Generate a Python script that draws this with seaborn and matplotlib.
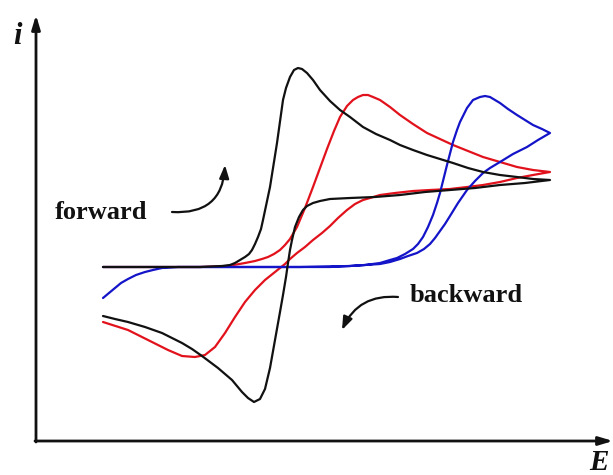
import matplotlib
matplotlib.use("Agg")
import matplotlib.pyplot as plt
import pandas as pd
import seaborn as sns

# Schematic cyclic voltammograms (arbitrary units): potential E, current i.
# Each scan runs forward to the switching potential and then back.
black_E = [66, 113, 163, 185, 193, 198, 203, 208, 212, 215, 218, 221, 224, 226, 233, 240,
           246, 249, 253, 257, 261, 265, 270, 276, 283, 293, 303, 313, 326, 339, 353, 363,
           376, 390, 403, 416, 431, 446, 463, 480, 496, 513,
           488, 463, 438, 413, 388, 363, 338, 313, 293, 283, 276, 270, 266, 262, 258, 255,
           253, 251, 249, 246, 243, 238, 233, 228, 223, 217, 211, 205, 200, 195, 188, 181,
           173, 165, 155, 145, 135, 125, 108, 91, 78, 66]
black_i = [173, 173, 173, 174, 175, 177, 180, 183, 186, 190, 196, 203, 211, 220, 253, 297,
           340, 352, 363, 370, 372, 371, 367, 360, 350, 339, 330, 323, 313, 306, 300, 295,
           290, 285, 281, 277, 272, 268, 265, 263, 261, 260,
           257, 255, 252, 250, 248, 245, 243, 242, 241, 239, 237, 234, 230, 223, 213, 200,
           190, 177, 163, 145, 128, 100, 72, 51, 41, 38, 42, 48, 54, 60, 66, 72,
           78, 84, 91, 97, 102, 107, 113, 118, 121, 124]

red_E = [66, 163, 191, 208, 218, 225, 231, 237, 243, 248, 253, 260, 268, 276, 283, 290,
         297, 303, 310, 316, 321, 326, 331, 336, 343, 353, 363, 376, 390, 403, 416, 431,
         446, 463, 480, 496, 513,
         496, 480, 463, 446, 430, 413, 393, 376, 358, 343, 333, 326, 318, 310, 301, 293,
         285, 276, 268, 260, 253, 248, 238, 228, 218, 208, 198, 188, 178, 168, 158, 145,
         131, 111, 91, 66]
red_i = [173, 173, 174, 177, 179, 181, 183, 186, 190, 195, 201, 213, 232, 253, 272, 291,
         309, 323, 334, 340, 343, 345, 345, 343, 340, 333, 325, 316, 307, 301, 295, 289,
         283, 278, 273, 270, 268,
         265, 262, 258, 255, 253, 251, 250, 249, 247, 245, 242, 240, 236, 230, 222, 214,
         207, 200, 193, 187, 181, 176, 168, 160, 150, 138, 123, 107, 93, 85, 83, 84,
         90, 100, 110, 118]

blue_E = [66, 263, 293, 313, 328, 343, 353, 360, 368, 376, 381, 386, 391, 396, 400, 403,
          410, 416, 420, 423, 427, 430, 436, 443, 448, 453, 458, 463, 471, 480, 488, 496,
          505, 513,
          501, 490, 476, 463, 453, 446, 438, 430, 421, 413, 408, 403, 398, 393, 387, 380,
          371, 363, 353, 343, 328, 313, 263, 163, 141, 125, 116, 108, 99, 91, 84, 78,
          72, 66]
blue_i = [173, 173, 173, 174, 175, 177, 180, 182, 186, 191, 196, 203, 213, 225, 237, 247,
          275, 298, 310, 318, 326, 332, 340, 343, 344, 343, 340, 337, 331, 325, 320, 315,
          311, 307,
          300, 293, 286, 278, 272, 267, 259, 250, 237, 224, 216, 209, 202, 196, 191, 187,
          184, 181, 178, 176, 175, 174, 173, 173, 173, 172, 170, 168, 165, 161, 157, 152,
          147, 142]

scan_names = ["red", "blue", "black"]
scan_colors = {"red": "#e2121c", "blue": "#1414c8", "black": "#111111"}

frames = []
for name, E, i in [("red", red_E, red_i), ("blue", blue_E, blue_i), ("black", black_E, black_i)]:
    frames.append(pd.DataFrame({"E": E, "i": i, "scan": name}))
df = pd.concat(frames, ignore_index=True)

sns.set_theme(style="white")
plt.rcParams["font.family"] = ["Liberation Serif", "DejaVu Serif"]

fig = plt.figure(figsize=(6.13, 4.75), dpi=100)
ax = fig.add_axes([0, 0, 1, 1])

sns.lineplot(data=df, x="E", y="i", hue="scan", hue_order=scan_names,
             palette=scan_colors, sort=False, estimator=None, legend=False,
             linewidth=1.6, ax=ax, solid_joinstyle="round", solid_capstyle="round")

ax.set_xlim(-37, 576)
ax.set_ylim(-35, 440)
ax.axis("off")

# Coordinate axes drawn as arrows
axis_arrow = dict(arrowstyle="-|>,head_length=0.6,head_width=0.18", lw=2, color="#111111",
                  mutation_scale=14, shrinkA=0, shrinkB=0)
ax.annotate("", xy=(-1, 425), xytext=(-1, -2), arrowprops=axis_arrow)
ax.annotate("", xy=(576, -1), xytext=(-2, -1), arrowprops=axis_arrow)

ax.text(-20, 403, "i", fontsize=22, fontweight="bold", fontstyle="italic",
        ha="center", va="center", color="#111111")
ax.text(552, -30, "E", fontsize=21, fontweight="bold", fontstyle="italic",
        ha="left", va="baseline", color="#111111")

# Scan direction annotations
ax.text(64, 221, "forward", fontsize=19, fontweight="bold", ha="center",
        va="baseline", color="#111111")
ax.text(373, 138, "backward", fontsize=19, fontweight="bold", ha="left",
        va="baseline", color="#111111")

curved = dict(arrowstyle="-|>,head_length=0.6,head_width=0.22", lw=1.6, color="#111111",
              mutation_scale=13, shrinkA=0, shrinkB=0)
ax.annotate("", xy=(188, 275), xytext=(135, 228),
            arrowprops=dict(curved, connectionstyle="arc3,rad=0.5"))
ax.annotate("", xy=(305, 110), xytext=(361, 143),
            arrowprops=dict(curved, connectionstyle="arc3,rad=0.35"))

fig.savefig("out.png", dpi=100, facecolor="white")
